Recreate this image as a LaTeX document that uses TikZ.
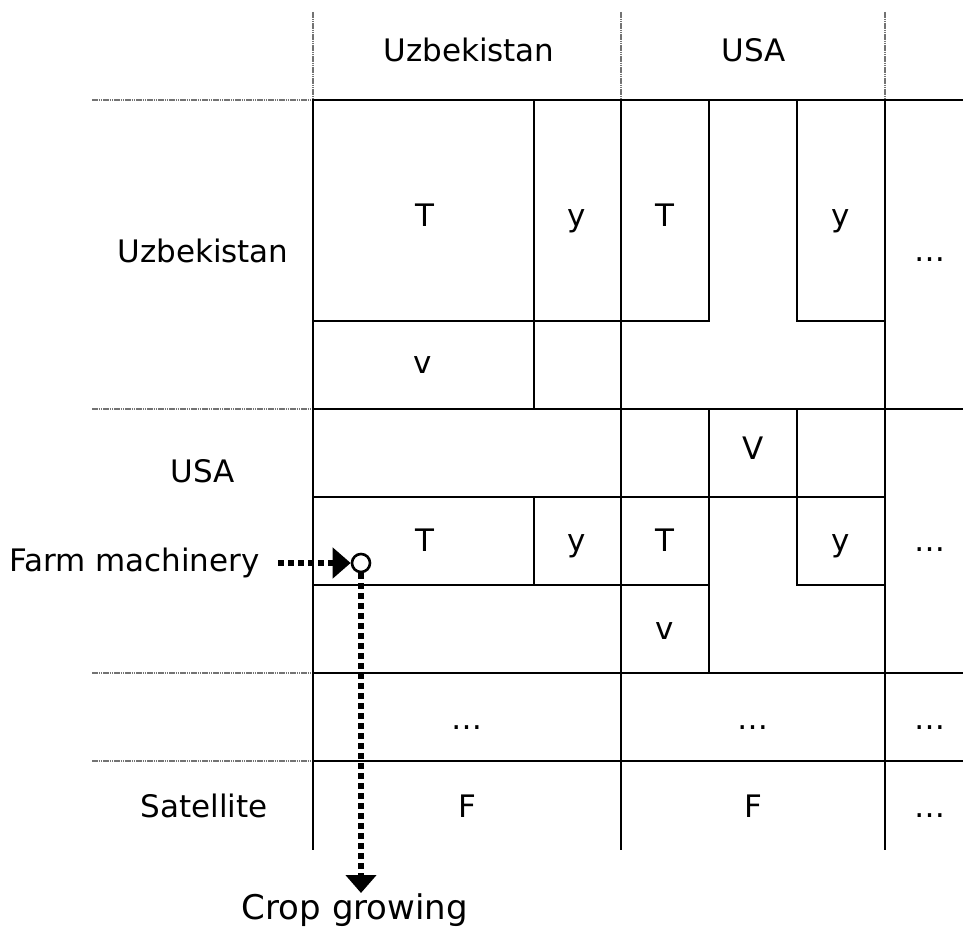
\documentclass[tikz,border=0pt]{standalone}
\usepackage{fontspec}
\setmainfont{DejaVu Sans}
\usetikzlibrary{arrows.meta}
\begin{document}
\begin{tikzpicture}[x=1pt,y=-1pt,
  grid/.style={line width=2.8pt,line cap=rect},
  guide/.style={black!55,line width=2.6pt,dash pattern=on 1.6pt off 0.6pt},
  lbl/.style={font=\fontsize{31}{37}\selectfont,inner sep=0pt},
  cell/.style={lbl,anchor=base},
  flow/.style={line width=6pt,dash pattern=on 6pt off 4pt,
    -{Triangle[length=18pt,width=30pt]}},
  pin/.style={circle,draw,line width=2.6pt,fill=white,minimum size=18pt,inner sep=0pt}]
\useasboundingbox (0,0) rectangle (963,928);

% gray guide lines for the header row and row labels
\foreach \x in {313,621,885} \draw[guide] (\x,12) -- (\x,100);
\foreach \y in {100,409,673,761} \draw[guide] (92,\y) -- (313,\y);

% horizontal grid lines
\draw[grid] (313,100) -- (963,100);
\draw[grid] (313,321) -- (709,321);
\draw[grid] (797,321) -- (885,321);
\draw[grid] (313,409) -- (963,409);
\draw[grid] (313,497) -- (885,497);
\draw[grid] (313,585) -- (709,585);
\draw[grid] (797,585) -- (885,585);
\draw[grid] (313,673) -- (963,673);
\draw[grid] (313,761) -- (963,761);

% vertical grid lines
\draw[grid] (313,100) -- (313,849);
\draw[grid] (534,100) -- (534,409);
\draw[grid] (534,497) -- (534,585);
\draw[grid] (621,100) -- (621,849);
\draw[grid] (709,100) -- (709,321);
\draw[grid] (709,409) -- (709,673);
\draw[grid] (797,100) -- (797,321);
\draw[grid] (797,409) -- (797,585);
\draw[grid] (885,100) -- (885,849);

% column headers
\node[cell] (hU) at (469,62) {Uzbekistan};
\node[cell] (hA) at (754,62) {USA};

% row labels
\node[cell] (rU) at (203,262) {Uzbekistan};
\node[cell] (rA) at (203,482) {USA};
\node[cell] (rS) at (204,817) {Satellite};

% cells of the Uzbekistan row
\node[cell] (c1) at (425,226) {T};
\node[cell] (c2) at (577,226) {y};
\node[cell] (c3) at (665,226) {T};
\node[cell] (c4) at (841,226) {y};
\node[cell] (c5) at (930,261) {…};
\node[cell] (c6) at (423,373) {v};

% cells of the USA row
\node[cell] (d0) at (753,459) {V};
\node[cell] (d1) at (425,551) {T};
\node[cell] (d2) at (577,551) {y};
\node[cell] (d3) at (665,551) {T};
\node[cell] (d4) at (841,551) {y};
\node[cell] (d5) at (930,551) {…};
\node[cell] (d6) at (665,639) {v};

% continuation row
\node[cell] (e1) at (467,729) {…};
\node[cell] (e2) at (753,729) {…};
\node[cell] (e3) at (930,729) {…};

% satellite row
\node[cell] (s1) at (467,817) {F};
\node[cell] (s2) at (753,817) {F};
\node[cell] (s3) at (930,817) {…};

% flow from farm machinery to crop growing
\node[lbl,anchor=west] (fm) at (9,563) {Farm machinery};
\node[pin] (dot) at (361,563) {};
\node[lbl,font=\fontsize{34}{40}\selectfont,anchor=north] (cg) at (355,893) {Crop growing};
\draw[flow] ([xshift=18pt]fm.east) -- (dot.west);
\draw[flow] (dot.south) -- (dot.south |- cg.north);
\end{tikzpicture}
\end{document}
